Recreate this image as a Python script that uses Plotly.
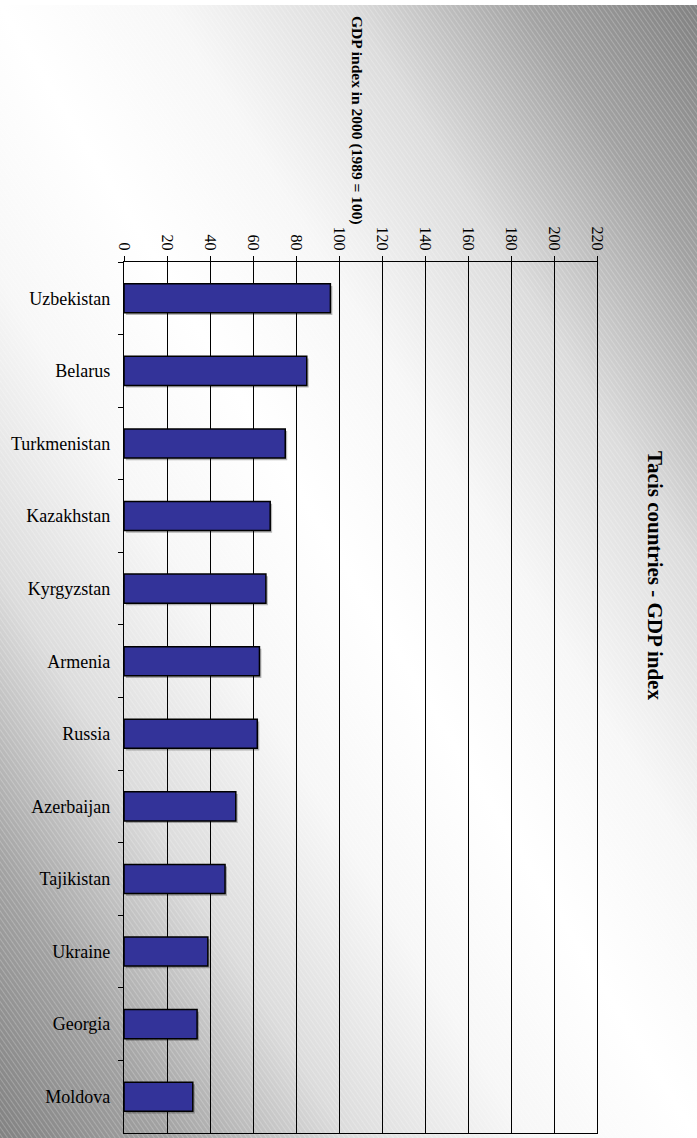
import base64
import plotly.graph_objects as go

countries = ["Uzbekistan", "Belarus", "Turkmenistan", "Kazakhstan", "Kyrgyzstan",
             "Armenia", "Russia", "Azerbaijan", "Tajikistan", "Ukraine", "Georgia", "Moldova"]
gdp_index = [96, 85, 75, 68, 66, 63, 62, 52, 47, 39, 34, 32]
x_ticks = [0, 20, 40, 60, 80, 100, 120, 140, 160, 180, 200, 220]

W, H = 697, 1138
L, R, T, B = 124, 100, 262, 5
PW, PH = W - L - R, H - T - B

svg = f'''<svg xmlns="http://www.w3.org/2000/svg" width="697" height="1133" viewBox="0 0 697 1133" preserveAspectRatio="none">
<defs>
<linearGradient id="g" x1="1" y1="0" x2="0" y2="1">
<stop offset="0" stop-color="#828282"/>
<stop offset="0.12" stop-color="#a2a2a2"/>
<stop offset="0.25" stop-color="#dcdcdc"/>
<stop offset="0.38" stop-color="#f7f7f7"/>
<stop offset="0.5" stop-color="#ffffff"/>
<stop offset="0.62" stop-color="#f7f7f7"/>
<stop offset="0.75" stop-color="#dcdcdc"/>
<stop offset="0.88" stop-color="#a2a2a2"/>
<stop offset="1" stop-color="#828282"/>
</linearGradient>
<pattern id="p" width="4" height="4" patternUnits="userSpaceOnUse" patternTransform="rotate(-35)">
<rect x="0" y="0" width="1" height="4" fill="#ffffff" fill-opacity="0.22"/>
</pattern>
</defs>
<rect width="697" height="1133" fill="url(#g)"/>
<rect width="697" height="1133" fill="url(#p)"/>
</svg>'''
src = "data:image/svg+xml;base64," + base64.b64encode(svg.encode()).decode()

fig = go.Figure()
# soft drop shadow behind each bar
fig.add_trace(go.Bar(
    x=gdp_index, y=countries, orientation="h", base=0.9,
    marker=dict(color="rgba(0,0,0,0.28)", line=dict(width=0)),
    width=0.4, offset=-0.17, showlegend=False, hoverinfo="skip",
))
fig.add_trace(go.Bar(
    x=gdp_index, y=countries, orientation="h",
    marker=dict(color="#333399", line=dict(color="#000000", width=1.5)),
    width=0.4, showlegend=False,
))

serif = "Liberation Serif, Times New Roman, serif"
fig.update_layout(
    width=W, height=H,
    barmode="overlay",
    margin=dict(l=L, r=R, t=T, b=B, pad=0),
    paper_bgcolor="white",
    plot_bgcolor="rgba(0,0,0,0)",
    font=dict(family=serif, color="black"),
    images=[dict(source=src, xref="paper", yref="paper",
                 x=-L / PW, y=1 + (T - 5) / PH, sizex=W / PW, sizey=(H - 5) / PH,
                 xanchor="left", yanchor="top", sizing="stretch", layer="below")],
    xaxis=dict(side="top", range=[0, 220], tickvals=x_ticks, ticktext=[str(v) for v in x_ticks],
               tickangle=90, tickfont=dict(size=16, family=serif),
               ticks="outside", ticklen=5, tickcolor="black",
               showgrid=True, gridcolor="black", gridwidth=1,
               showline=True, linecolor="black", linewidth=1, mirror=True,
               zeroline=False, fixedrange=True),
    yaxis=dict(categoryorder="array", categoryarray=countries, autorange="reversed",
               tickfont=dict(size=18, family=serif),
               ticks="outside", ticklen=5, tickcolor="black", tickson="boundaries",
               showline=True, linecolor="black", linewidth=1.2, mirror=True,
               showgrid=False, zeroline=False, ticklabelstandoff=9),
    annotations=[
        dict(text="<b>GDP index in 2000 (1989 = 100)</b>", textangle=90,
             xref="paper", yref="paper", x=(357 - L) / PW, y=1 + (T - 120) / PH,
             xanchor="center", yanchor="middle", showarrow=False,
             font=dict(size=15.5, family=serif, color="black")),
        dict(text="<b>Tacis countries - GDP index</b>", textangle=90,
             xref="paper", yref="paper", x=(655 - L) / PW, y=1 - (575 - T) / PH,
             xanchor="center", yanchor="middle", showarrow=False,
             font=dict(size=21, family=serif, color="black")),
    ],
)

fig.write_html("out.html", config={"displayModeBar": False},
               post_script="document.body.style.margin='0';document.body.style.overflow='hidden';")
